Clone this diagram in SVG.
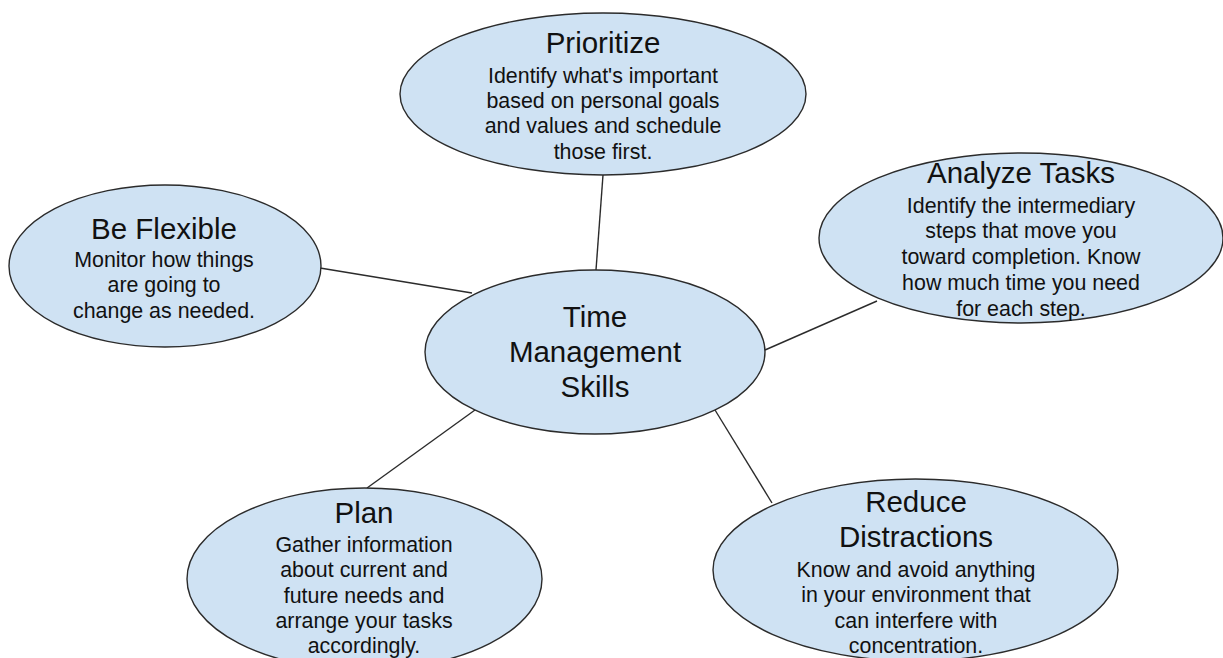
<svg xmlns="http://www.w3.org/2000/svg" width="1223" height="658" viewBox="0 0 1223 658">
  <style>
    .node { fill: #cfe2f3; stroke: #2b2b2b; stroke-width: 1.4; }
    .link { stroke: #2b2b2b; stroke-width: 1.4; fill: none; }
    text { font-family: "Liberation Sans", Arial, sans-serif; fill: #111; text-anchor: middle; }
    .title { font-size: 29.5px; }
    .body { font-size: 21.4px; }
  </style>
  <rect width="1223" height="658" fill="#fff"/>

  <!-- spokes from the hub to each skill -->
  <g id="connectors">
    <line class="link" x1="603" y1="175" x2="596" y2="270"/>
    <line class="link" x1="320" y1="268" x2="472" y2="293"/>
    <line class="link" x1="877" y1="301" x2="765" y2="350"/>
    <line class="link" x1="475" y1="410" x2="367" y2="488"/>
    <line class="link" x1="715" y1="410" x2="772" y2="503"/>
  </g>

  <g id="prioritize">
    <ellipse class="node" cx="603" cy="94" rx="203" ry="81"/>
    <text class="title" x="603" y="53">Prioritize</text>
    <text class="body" x="603" y="83">Identify what's important</text>
    <text class="body" x="603" y="108">based on personal goals</text>
    <text class="body" x="603" y="133">and values and schedule</text>
    <text class="body" x="603" y="159">those first.</text>
  </g>

  <g id="be-flexible">
    <ellipse class="node" cx="165" cy="266" rx="156" ry="81"/>
    <text class="title" x="164" y="239">Be Flexible</text>
    <text class="body" x="164" y="267">Monitor how things</text>
    <text class="body" x="164" y="292">are going to</text>
    <text class="body" x="164" y="318">change as needed.</text>
  </g>

  <g id="analyze-tasks">
    <ellipse class="node" cx="1021" cy="238" rx="202" ry="85"/>
    <text class="title" x="1021" y="183">Analyze Tasks</text>
    <text class="body" x="1021" y="213">Identify the intermediary</text>
    <text class="body" x="1021" y="238">steps that move you</text>
    <text class="body" x="1021" y="264">toward completion. Know</text>
    <text class="body" x="1021" y="290">how much time you need</text>
    <text class="body" x="1021" y="316">for each step.</text>
  </g>

  <g id="time-management-skills">
    <ellipse class="node" cx="595" cy="352" rx="170" ry="82"/>
    <text class="title" x="595" y="327">Time</text>
    <text class="title" x="595" y="362">Management</text>
    <text class="title" x="595" y="397">Skills</text>
  </g>

  <g id="plan">
    <ellipse class="node" cx="364.5" cy="579" rx="177.5" ry="91"/>
    <text class="title" x="364" y="523">Plan</text>
    <text class="body" x="364" y="552">Gather information</text>
    <text class="body" x="364" y="577">about current and</text>
    <text class="body" x="364" y="603">future needs and</text>
    <text class="body" x="364" y="628">arrange your tasks</text>
    <text class="body" x="364" y="653">accordingly.</text>
  </g>

  <g id="reduce-distractions">
    <ellipse class="node" cx="915.5" cy="570" rx="202.5" ry="91"/>
    <text class="title" x="916" y="512">Reduce</text>
    <text class="title" x="916" y="547">Distractions</text>
    <text class="body" x="916" y="577">Know and avoid anything</text>
    <text class="body" x="916" y="602">in your environment that</text>
    <text class="body" x="916" y="628">can interfere with</text>
    <text class="body" x="916" y="653">concentration.</text>
  </g>
</svg>
